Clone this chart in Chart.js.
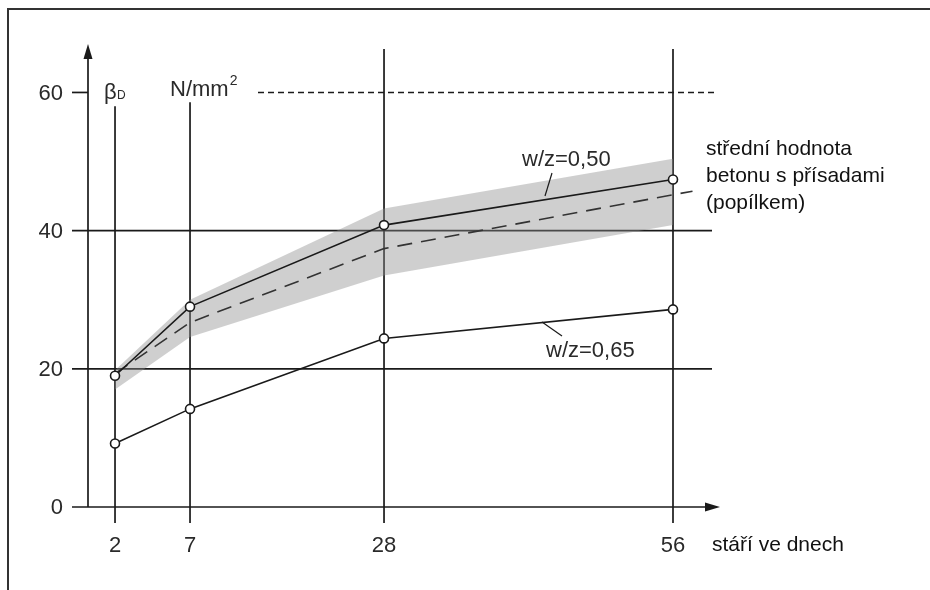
<!DOCTYPE html>
<html>
<head>
<meta charset="utf-8">
<script src="https://cdn.jsdelivr.net/npm/chart.js@4.4.1/dist/chart.umd.min.js"></script>
<style>
  html, body { margin: 0; padding: 0; background: #fff; }
  #wrap { width: 930px; height: 590px; }
</style>
</head>
<body>
<div id="wrap"><canvas id="chart" width="930" height="590"></canvas></div>
<script>
// hodnoty (pevnost v tlaku, N/mm2)
const days = [2, 7, 28, 56];
const xTickLabels = ['2', '7', '28', '56'];
const yTicks = [0, 20, 40, 60];
const wz050 = [19.0, 29.0, 40.8, 47.4];
const wz065 = [9.2, 14.2, 24.4, 28.6];
const meanDays = [2, 7, 28, 56, 58];
const meanAsh = [19.3, 26.7, 37.4, 45.2, 45.7];
const bandUpper = [19.8, 30.0, 43.2, 50.4];
const bandLower = [17.0, 24.6, 33.5, 40.8];

const INK = '#1a1a1a';
const LABEL = '#2a2a2a';
const SANS = '"Liberation Sans", Arial, sans-serif';

// osa x v originále není lineární -> po částech lineární měřítko
class PiecewiseScale extends Chart.LinearScale {
  getPixelForValue(value) {
    const stops = this.options.stops;
    const w = this.right - this.left;
    if (value <= stops[0][0]) return this.left + stops[0][1] * w;
    for (let i = 1; i < stops.length; i++) {
      const a = stops[i - 1], b = stops[i];
      if (value <= b[0]) {
        const t = (value - a[0]) / (b[0] - a[0]);
        return this.left + (a[1] + t * (b[1] - a[1])) * w;
      }
    }
    return this.left + stops[stops.length - 1][1] * w;
  }
  getValueForPixel(pixel) {
    const stops = this.options.stops;
    const f = (pixel - this.left) / (this.right - this.left);
    for (let i = 1; i < stops.length; i++) {
      const a = stops[i - 1], b = stops[i];
      if (f <= b[1]) return a[0] + (f - a[1]) / (b[1] - a[1]) * (b[0] - a[0]);
    }
    return stops[stops.length - 1][0];
  }
}
PiecewiseScale.id = 'piecewise';
PiecewiseScale.defaults = Chart.LinearScale.defaults;
Chart.register(PiecewiseScale);

const toXY = (xs, ys) => ys.map((y, i) => ({ x: xs[i], y: y }));

function line(ctx, x1, y1, x2, y2) {
  ctx.beginPath();
  ctx.moveTo(x1, y1);
  ctx.lineTo(x2, y2);
  ctx.stroke();
}

const axesPlugin = {
  id: 'axesPlugin',
  beforeDatasetsDraw(chart) {
    const ctx = chart.ctx;
    const xs = chart.scales.x, ys = chart.scales.y;
    const area = chart.chartArea;
    const x0 = xs.getPixelForValue(0);
    const y0 = ys.getPixelForValue(0);
    ctx.save();

    // rámeček
    ctx.strokeStyle = '#333';
    ctx.lineWidth = 2;
    ctx.beginPath();
    ctx.moveTo(8, 590);
    ctx.lineTo(8, 9);
    ctx.lineTo(930, 9);
    ctx.stroke();

    ctx.strokeStyle = INK;
    ctx.fillStyle = INK;
    ctx.lineWidth = 1.7;

    // osa y se šipkou
    line(ctx, x0, y0, x0, area.top + 2);
    ctx.beginPath();
    ctx.moveTo(x0, area.top - 7);
    ctx.lineTo(x0 - 4.5, area.top + 8);
    ctx.lineTo(x0 + 4.5, area.top + 8);
    ctx.closePath();
    ctx.fill();

    // osa x se šipkou
    line(ctx, x0 - 16, y0, area.right, y0);
    ctx.beginPath();
    ctx.moveTo(area.right + 8, y0);
    ctx.lineTo(area.right - 7, y0 - 4.5);
    ctx.lineTo(area.right - 7, y0 + 4.5);
    ctx.closePath();
    ctx.fill();

    // vodorovné čáry a popisky osy y
    ctx.font = '22px ' + SANS;
    ctx.textAlign = 'right';
    ctx.textBaseline = 'middle';
    yTicks.forEach(v => {
      const y = ys.getPixelForValue(v);
      ctx.fillStyle = LABEL;
      ctx.fillText(String(v), x0 - 25, y + 1);
      if (v === 20 || v === 40) {
        line(ctx, x0 - 16, y, area.right, y);
      } else if (v === 60) {
        line(ctx, x0 - 16, y, x0, y);
      }
    });

    // svislé čáry pro dny
    days.forEach((d, i) => {
      const x = xs.getPixelForValue(d);
      let top = area.top - 2;
      if (i === 0) top = ys.getPixelForValue(58);
      if (i === 1) top = ys.getPixelForValue(58.6);
      line(ctx, x, top, x, y0 + 16);
      ctx.fillStyle = LABEL;
      ctx.textAlign = 'center';
      ctx.fillText(xTickLabels[i], x, y0 + 39);
    });

    // jednotky u osy y
    const y60 = ys.getPixelForValue(60);
    ctx.fillStyle = LABEL;
    ctx.textAlign = 'left';
    ctx.font = '22px ' + SANS;
    ctx.fillText('\u03b2', x0 + 16, y60);
    ctx.font = '12px ' + SANS;
    ctx.fillText('D', x0 + 29, y60 + 3);
    ctx.font = '22px ' + SANS;
    ctx.fillText('N/mm', x0 + 82, y60 - 3);
    const wN = ctx.measureText('N/mm').width;
    ctx.font = '14px ' + SANS;
    ctx.fillText('2', x0 + 82 + wN + 1, y60 - 11);

    // čárkovaná čára na 60
    ctx.setLineDash([6, 4]);
    ctx.lineWidth = 1.4;
    line(ctx, x0 + 170, y60, area.right + 6, y60);
    ctx.setLineDash([]);
    ctx.restore();
  },
  afterDraw(chart) {
    const ctx = chart.ctx;
    const ys = chart.scales.y;
    const area = chart.chartArea;
    const y0 = ys.getPixelForValue(0);
    ctx.save();
    ctx.fillStyle = LABEL;
    ctx.strokeStyle = INK;
    ctx.lineWidth = 1.2;
    ctx.textBaseline = 'middle';
    ctx.textAlign = 'left';

    // popisky křivek
    ctx.font = '22px ' + SANS;
    ctx.fillText('w/z=0,50', 522, 160);
    line(ctx, 552, 173, 545, 196);
    ctx.fillText('w/z=0,65', 546, 351);
    line(ctx, 542, 322, 562, 336);

    // popis osy x a legenda vpravo
    ctx.fillStyle = '#111';
    ctx.font = '21px ' + SANS;
    ctx.fillText('stáří ve dnech', area.right, y0 + 38);
    ctx.fillText('střední hodnota', 706, 149);
    ctx.fillText('betonu s přísadami', 706, 176);
    ctx.fillText('(popílkem)', 706, 203);
    ctx.restore();
  }
};

const pointStyle = {
  pointRadius: 4.5,
  pointBackgroundColor: '#fff',
  pointBorderColor: INK,
  pointBorderWidth: 1.6
};

new Chart(document.getElementById('chart').getContext('2d'), {
  type: 'line',
  data: {
    datasets: [
      Object.assign({
        label: 'w/z=0,50',
        data: toXY(days, wz050),
        borderColor: INK,
        borderWidth: 1.6,
        fill: false
      }, pointStyle),
      Object.assign({
        label: 'w/z=0,65',
        data: toXY(days, wz065),
        borderColor: INK,
        borderWidth: 1.6,
        fill: false
      }, pointStyle),
      {
        label: 'střední hodnota betonu s přísadami',
        data: toXY(meanDays, meanAsh),
        borderColor: '#333',
        borderWidth: 1.6,
        borderDash: [15, 9],
        pointRadius: 0,
        fill: false
      },
      {
        label: 'pásmo horní',
        data: toXY(days, bandUpper),
        borderWidth: 0,
        borderColor: 'rgba(0,0,0,0)',
        pointRadius: 0,
        backgroundColor: 'rgba(140,140,140,0.42)',
        fill: '+1'
      },
      {
        label: 'pásmo dolní',
        data: toXY(days, bandLower),
        borderWidth: 0,
        borderColor: 'rgba(0,0,0,0)',
        pointRadius: 0,
        fill: false
      }
    ]
  },
  options: {
    responsive: false,
    animation: false,
    layout: { padding: { left: 88, right: 218, top: 51, bottom: 83 } },
    plugins: {
      legend: { display: false },
      tooltip: { enabled: false }
    },
    scales: {
      x: {
        type: 'piecewise',
        display: false,
        min: 0,
        max: 60,
        stops: [[0, 0], [2, 0.0433], [7, 0.1635], [28, 0.4744], [56, 0.9375], [60, 1]]
      },
      y: {
        type: 'linear',
        display: false,
        min: 0,
        max: 66
      }
    }
  },
  plugins: [axesPlugin]
});
</script>
</body>
</html>
